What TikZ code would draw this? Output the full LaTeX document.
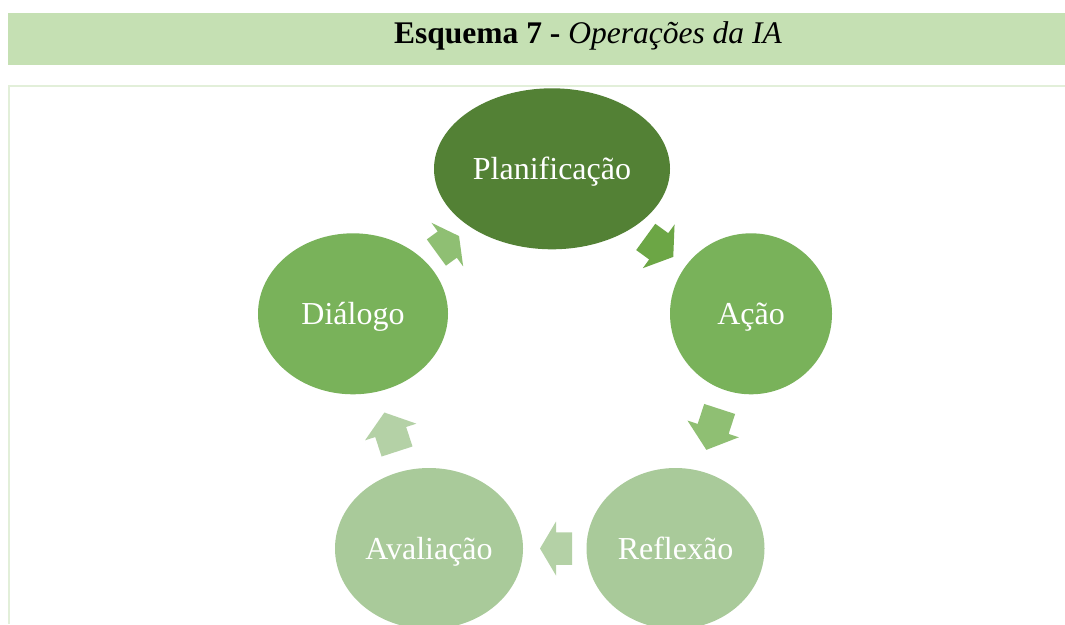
\documentclass[tikz,border=0pt]{standalone}
\usepackage{fontspec}
\setmainfont{Liberation Serif}[Ligatures=NoCommon]
\usetikzlibrary{shapes.geometric}
\definecolor{band}{HTML}{C5E0B3}
\definecolor{framec}{HTML}{E2EFD9}
\definecolor{cdark}{HTML}{538135}
\definecolor{cmid}{HTML}{79B25A}
\definecolor{clight}{HTML}{A9CA9A}
\definecolor{aone}{HTML}{6CA645}
\definecolor{atwo}{HTML}{8FBF73}
\definecolor{athree}{HTML}{B4D1A6}
% #1 name, #2 position, #3 direction angle, #4 total length, #5 head length, #6 colour
\newcommand{\cyclearrow}[6]{%
  \coordinate (#1) at #2;
  \fill[#6, shift={(#1)}, rotate=#3]
    (-#4/2,-16.25) -- ({#4/2-#5},-16.25) -- ({#4/2-#5},-27) -- (#4/2,0)
    -- ({#4/2-#5},27) -- ({#4/2-#5},16.25) -- (-#4/2,16.25) -- cycle;
}
\begin{document}
\begin{tikzpicture}[x=1pt,y=1pt,
  phase/.style={ellipse, inner sep=0pt, minimum height=161pt, text=white,
    font=\fontsize{32}{38}\selectfont, text height=21pt, text depth=0pt},
  framestyle/.style={framec, line width=2pt}]
\clip (0,0) rectangle (1065,-624);
\fill[white] (0,0) rectangle (1065,-624);
% header band
\fill[band] (8,-13) rectangle (1065,-65);
\node[anchor=base, font=\fontsize{31.5}{36}\selectfont] (title) at (588,-43)
  {\textbf{Esquema 7 -} \textit{Operações da IA}};
% frame
\draw[framestyle] (8.5,-624) -- (8.5,-86) -- (1065,-86);
% phases
\node[phase, fill=cdark,  minimum width=236pt] (plan) at (552,-168.8) {Planificação};
\node[phase, fill=cmid,   minimum width=162pt] (acao) at (751,-313.8) {Ação};
\node[phase, fill=cmid,   minimum width=190pt] (dial) at (353,-313.8) {Diálogo};
\node[phase, fill=clight, minimum width=178pt] (refl) at (675.5,-548.5) {Reflexão};
\node[phase, fill=clight, minimum width=188pt] (aval) at (429,-548.5) {Avaliação};
% block arrows of the cycle
\cyclearrow{planacao}{(659.5,-246.9)}{-36}{34}{18}{aone}
\cyclearrow{acaorefl}{(713,-429.4)}{-108}{43}{22}{atwo}
\cyclearrow{reflaval}{(556,-548.5)}{180}{32}{16}{athree}
\cyclearrow{avaldial}{(390.7,-432)}{108}{41}{20.5}{athree}
\cyclearrow{dialplan}{(447.7,-244.3)}{36}{28}{14.5}{atwo}
\end{tikzpicture}
\end{document}
